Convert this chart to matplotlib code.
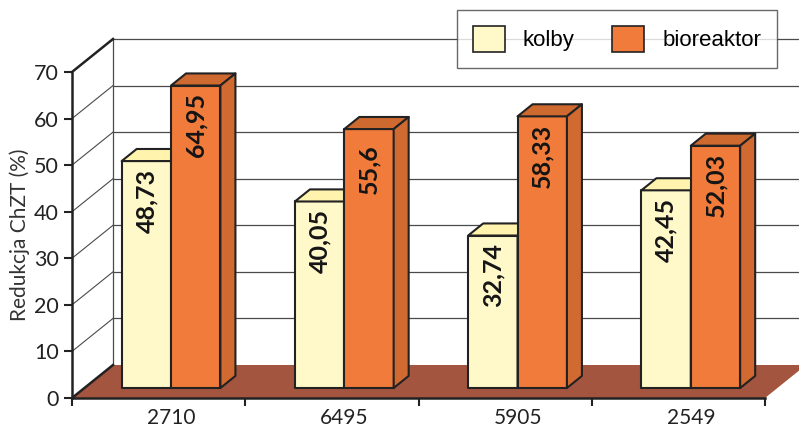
import matplotlib
matplotlib.use("Agg")
import matplotlib.pyplot as plt
from matplotlib.patches import Polygon, Patch
import numpy as np

categories = ["2710", "6495", "5905", "2549"]
series_names = ["kolby", "bioreaktor"]
kolby = [48.73, 40.05, 32.74, 42.45]
bioreaktor = [64.95, 55.6, 58.33, 52.03]
kolby_labels = ["48,73", "40,05", "32,74", "42,45"]
bioreaktor_labels = ["64,95", "55,6", "58,33", "52,03"]
yticks = [0, 10, 20, 30, 40, 50, 60, 70]

# colours
C_KOL = "#FFF9CA"
C_KOL_TOP = "#FFF3AE"
C_KOL_SIDE = "#F2E9A8"
C_BIO = "#F07B3B"
C_BIO_TOP = "#CE6930"
C_BIO_SIDE = "#D06A31"
C_FLOOR = "#A4553F"
C_EDGE = "#222222"

W, H = 799, 428
fig = plt.figure(figsize=(W / 100, H / 100), dpi=100)
ax = fig.add_axes([72 / W, 30 / H, 693 / W, 326 / H])
ax.set_xlim(0, 4)
ax.set_ylim(0, 70)
ax.patch.set_visible(False)

# oblique depth vector (data units)
DX = 41 / 173.25
DY = 33 / (326 / 70)

# back wall gridlines
for v in yticks[1:]:
    ax.plot([DX, 4 + DX + 0.2], [v + DY, v + DY], color="#4a4a4a", lw=0.9,
            clip_on=False, zorder=1)
# back-left vertical edge
ax.plot([DX, DX], [DY, 70 + DY], color="#4a4a4a", lw=0.9, clip_on=False, zorder=1)
# left wall diagonals
for v in yticks:
    lw = 1.8 if v in (0, 70) else 0.8
    col = C_EDGE if v in (0, 70) else "#4a4a4a"
    ax.plot([0, DX], [v, v + DY], color=col, lw=lw, clip_on=False, zorder=2)

# floor
floor = Polygon([(0, 0), (4, 0), (4 + DX, DY), (DX, DY)], closed=True,
                facecolor=C_FLOOR, edgecolor="none", clip_on=False, zorder=1.5)
ax.add_patch(floor)

# bars
d0, dd = 0.303, 0.366
bw = 0.285
ox, oy = d0 * DX, d0 * DY
ddx, ddy = dd * DX, dd * DY


def bar3d(x0, val, face, top, side, z):
    x1 = x0 + bw
    b = oy
    t = oy + val
    xs0, xs1 = x0 + ox, x1 + ox
    ax.add_patch(Polygon([(xs0, b), (xs1, b), (xs1, t), (xs0, t)], closed=True,
                         facecolor=face, edgecolor=C_EDGE, lw=1.5, zorder=z,
                         joinstyle="round"))
    ax.add_patch(Polygon([(xs0, t), (xs1, t), (xs1 + ddx, t + ddy), (xs0 + ddx, t + ddy)],
                         closed=True, facecolor=top, edgecolor=C_EDGE, lw=1.5, zorder=z,
                         joinstyle="round"))
    ax.add_patch(Polygon([(xs1, b), (xs1, t), (xs1 + ddx, t + ddy), (xs1 + ddx, b + ddy)],
                         closed=True, facecolor=side, edgecolor=C_EDGE, lw=1.5, zorder=z,
                         joinstyle="round"))
    return (xs0 + xs1) / 2, t


lab_font = dict(family="Lato", fontsize=18, fontweight="bold", color="#151515")
for i in range(len(categories)):
    cx = i + 0.5
    xk, tk = bar3d(cx - bw, kolby[i], C_KOL, C_KOL_TOP, C_KOL_SIDE, 3 + i * 2)
    xb, tb = bar3d(cx, bioreaktor[i], C_BIO, C_BIO_TOP, C_BIO_SIDE, 4 + i * 2)
    ax.text(xk, tk - 8.5, kolby_labels[i], rotation=90, ha="center", va="center",
            zorder=20, **lab_font)
    ax.text(xb, tb - 8.5, bioreaktor_labels[i], rotation=90, ha="center", va="center",
            zorder=20, **lab_font)

# spines / ticks
for s in ["top", "right"]:
    ax.spines[s].set_visible(False)
for s in ["left", "bottom"]:
    ax.spines[s].set_color(C_EDGE)
    ax.spines[s].set_linewidth(1.8)
    ax.spines[s].set_zorder(2.5)
ax.set_yticks(yticks)
ax.set_yticklabels([str(v) for v in yticks], family="Lato", fontsize=15.5, color="#222222")
ax.set_xticks([0, 1, 2, 3, 4])
ax.set_xticklabels([])
ax.set_xticks([i + 0.5 + ox for i in range(len(categories))], minor=True)
ax.set_xticklabels(categories, minor=True, family="Lato", fontsize=15, color="#222222")
ax.tick_params(axis="x", which="major", length=6, width=1.5, color=C_EDGE, direction="out")
ax.tick_params(axis="x", which="minor", length=0, pad=7)
ax.tick_params(axis="y", length=6, width=1.5, color=C_EDGE, direction="out", pad=3.5)
ax.set_ylabel("Redukcja ChZT (%)", family="Lato", fontsize=15, color="#333333",
              labelpad=3)

# legend
handles = [Patch(facecolor=C_KOL, edgecolor=C_EDGE, lw=1.2),
           Patch(facecolor=C_BIO, edgecolor=C_EDGE, lw=1.2)]
leg = fig.legend(handles, series_names, loc="upper left",
                 bbox_to_anchor=(457 / W, 1 - 10 / H), ncol=2, frameon=True,
                 fancybox=False, edgecolor="#444444", facecolor="white",
                 prop=dict(family="Liberation Sans", size=16),
                 handlelength=1.45, handleheight=1.45, handletextpad=0.8,
                 columnspacing=1.7, borderpad=0.7, borderaxespad=0)
leg.get_frame().set_linewidth(1.0)
leg.set_zorder(30)

fig.savefig("out.png", dpi=100)
